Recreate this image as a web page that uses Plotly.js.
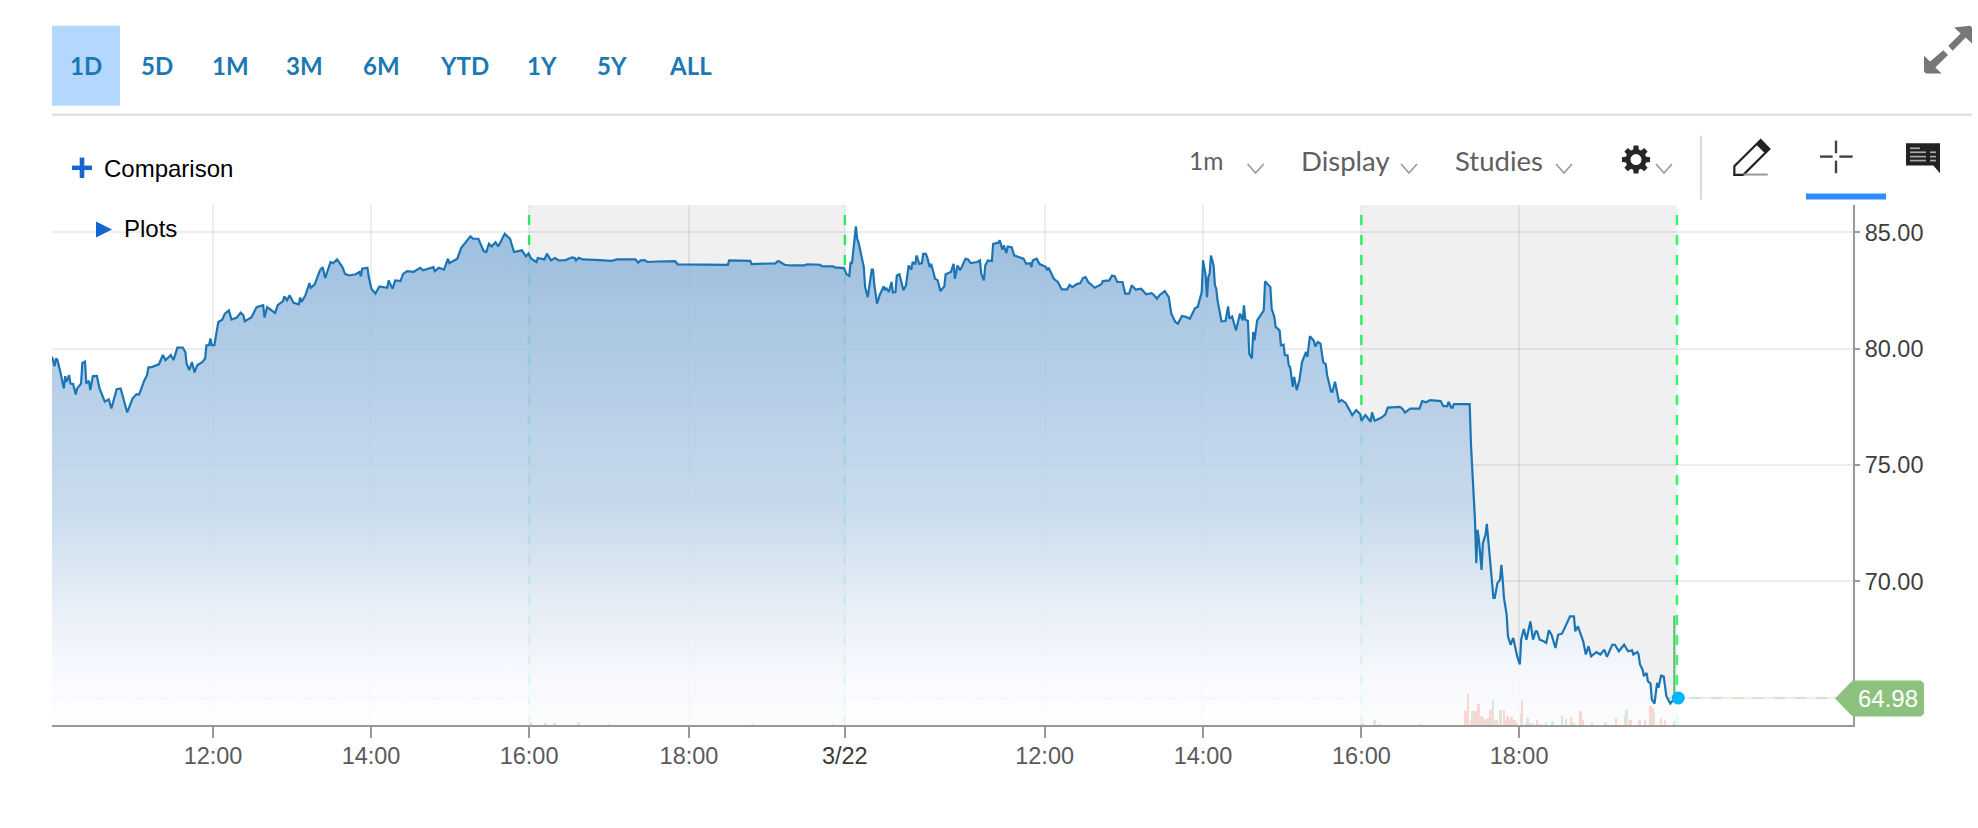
<!DOCTYPE html>
<html>
<head>
<meta charset="utf-8">
<script src="https://cdn.plot.ly/plotly-3.0.1.min.js"></script>
<style>html,body{margin:0;padding:0;background:#fff;overflow:hidden}#chart{width:1978px;height:828px}</style>
</head>
<body>
<div id="chart"></div>
<script>
// One-minute bars, numbered from the first bar of the chart
const barIndex = [0,2,3,4,6,8,9,10,11,13,14,16,18,19,22,23,25,26,28,29,31,34,36,40,43,45,49,52,55,57,61,64,66,68,70,72,73,76,81,84,86,90,92,95,99,101,102,104,106,108,110,114,116,117,119,120,121,123,126,129,131,134,136,140,143,145,146,151,155,160,161,163,169,171,175,176,178,180,183,187,188,189,192,195,196,199,203,205,207,211,213,216,220,222,225,230,233,234,235,239,240,242,245,248,254,255,258,260,264,266,269,274,276,279,281,285,289,290,293,297,300,301,307,310,314,317,319,323,327,329,331,333,336,338,343,347,350,356,359,361,
363,367,368,373,375,378,381,384,389,394,396,397,399,402,415,424,428,442,444,446,449,451,459,472,474,512,513,529,530,548,550,551,555,560,570,572,582,583,592,593,600,
602,604,605,606,607,609,610,611,615,616,618,621,622,623,625,627,630,631,632,634,636,637,639,640,642,645,647,649,651,652,654,655,657,659,660,662,663,665,666,669,671,673,676,677,681,683,684,686,688,692,694,696,701,703,704,706,707,709,712,713,717,718,720,721,723,724,727,729,736,738,741,742,743,746,748,753,754,755,759,762,765,769,771,773,776,779,781,783,785,790,795,796,801,803,805,807,811,813,816,818,821,825,829,833,835,837,839,843,846,848,851,853,856,859,862,864,866,868,871,872,874,875,876,877,878,880,881,882,883,886,889,891,892,894,897,900,902,903,904,906,907,909,910,911,913,916,918,919,923,924,926,927,930,931,933,934,936,937,938,940,941,943,945,947,950,951,953,956,957,959,961,963,965,966,967,969,970,972,973,975,977,980,983,985,988,991,992,
995,999,1000,1002,1007,1010,1012,1021,1023,1025,1029,1036,1038,1041,1044,1052,1054,1057,1058,1060,1061,1062,1074,1075,1076,1077,1078,1079,1080,1081,1083,1084,1086,1087,1091,1092,1093,1095,1097,1098,1099,1100,1102,1103,1105,1107,1110,1112,1113,1115,1117,1120,1122,1124,1125,1127,1130,1132,1134,1136,1139,1141,1144,1147,1150,1153,1154,1156,1160,1162,1164,1166,1170,1173,1176,1178,1182,1184,1187,1191,1194,1197,1198,1201,1202,1203,1205,1206,1208,1209,1211,1212,1214,1216,1217,1219,1221,1223,1226,1228,1232];
const price = [79.65,79.25,79.58,79.53,79.08,78.43,78.29,78.82,78.58,78.86,78.50,78.48,78.03,78.29,78.50,79.39,79.45,78.50,78.62,78.22,78.82,78.83,78.29,77.72,77.82,77.43,78.26,78.29,77.72,77.26,77.86,78.05,78.03,78.39,78.65,78.86,79.19,79.22,79.33,79.73,79.51,79.73,79.51,80.05,80.05,79.86,79.36,79.08,79.43,78.98,79.29,79.43,79.58,80.15,80.15,80.44,80.15,80.15,81.15,81.25,81.51,81.65,81.25,81.34,81.55,81.44,81.18,81.34,81.79,81.87,81.34,81.79,81.54,81.87,82.05,82.25,82.08,82.30,81.97,81.91,82.20,82.01,82.30,82.82,82.62,82.77,83.37,83.51,83.04,83.73,83.68,83.84,83.51,83.22,83.15,83.20,83.30,83.11,83.44,83.48,83.08,82.58,82.37,82.68,82.62,82.94,82.58,82.94,82.91,83.22,83.34,83.31,83.37,83.48,83.37,83.44,83.51,83.34,83.48,83.40,83.87,83.68,83.87,84.34,84.63,84.83,84.73,84.73,84.20,84.16,84.51,84.40,84.58,84.40,84.94,84.73,84.16,84.23,83.97,84.10,
83.87,83.73,83.90,83.84,84.08,83.80,83.90,83.80,83.81,83.93,83.90,83.80,83.91,83.84,83.81,83.78,83.84,83.84,83.70,83.80,83.81,83.73,83.75,83.77,83.63,83.61,83.80,83.78,83.64,83.67,83.77,83.75,83.61,83.58,83.58,83.63,83.61,83.55,83.54,83.50,83.47,
83.20,83.13,83.73,83.65,84.23,85.26,84.73,84.58,83.51,82.65,82.22,83.40,83.40,82.73,81.94,82.30,82.68,82.51,82.62,82.44,82.87,82.42,82.44,83.15,83.20,82.51,82.73,83.58,83.40,83.73,83.63,84.01,83.65,83.68,84.08,84.08,83.94,83.51,83.65,83.01,82.94,82.48,82.68,83.20,83.30,83.65,83.01,83.58,83.37,83.87,83.84,83.68,83.73,83.80,83.22,82.94,83.58,83.80,83.77,84.51,84.56,84.66,84.26,84.44,84.11,84.40,84.37,84.01,83.87,83.65,83.68,83.51,83.80,83.87,83.65,83.51,83.37,83.48,83.01,82.87,82.55,82.55,82.74,82.65,82.77,82.82,83.04,83.08,82.87,82.62,82.77,82.91,82.94,83.14,83.13,82.87,82.87,82.37,82.37,82.73,82.54,82.58,82.34,82.39,82.30,82.15,82.30,82.48,82.22,81.51,81.15,81.08,81.41,81.37,81.29,81.54,81.75,81.80,82.44,83.80,83.15,82.22,83.08,83.22,84.01,83.58,82.73,82.58,82.08,81.18,81.19,81.82,81.29,81.39,80.79,81.51,81.22,81.87,81.25,81.19,79.79,79.58,80.72,80.36,81.22,81.48,81.65,82.90,82.65,81.72,81.37,80.94,80.79,80.15,80.18,79.72,79.72,79.26,79.22,78.36,78.79,78.22,78.65,79.43,79.86,79.65,80.54,80.34,80.10,80.29,80.22,79.43,79.33,78.86,78.65,78.15,78.15,78.58,78.29,77.72,77.79,77.67,77.36,77.14,77.36,77.19,76.90,
77.15,76.86,77.26,76.90,77.03,77.17,77.47,77.50,77.43,77.25,77.43,77.42,77.75,77.70,77.79,77.75,77.53,77.53,77.72,77.47,77.47,77.62,77.62,75.86,74.78,73.93,72.64,70.78,72.21,71.78,70.49,71.64,72.00,72.47,70.06,69.28,69.28,69.92,70.06,70.71,70.06,69.28,68.56,67.63,67.27,67.56,66.77,66.42,67.49,67.95,67.49,68.27,67.49,67.85,67.85,67.49,67.42,67.35,67.89,67.70,67.13,67.70,67.75,68.13,68.49,68.49,67.85,68.06,67.42,66.85,67.20,66.77,66.95,66.85,67.06,66.75,67.27,67.27,66.99,67.27,66.99,67.03,66.85,66.96,66.85,66.42,66.20,65.92,66.06,65.70,65.60,64.91,64.74,65.63,65.42,65.94,65.91,65.06,64.74,64.88,64.98];

const volIndex = [363,374,381,399,422,531,592,993,1002,1006,1037,1071,1073,1075,1076,1078,1079,1081,1083,1084,1086,1088,1090,1092,1093,1095,1097,1098,1100,1101,1103,1105,1106,1108,1110,1113,1114,1117,1118,1120,1122,1125,1127,1132,1137,1144,1147,1151,1153,1158,1160,1167,1177,1185,1192,1193,1196,1203,1207,1211,1213,1214,1219,1222,1229];
const volume = [3,2,2,3,1,1,1,1.5,5,1,1,14,31,5,14,14,14,21,9,7,6,7,15,25,5,5,15,15,15,5,9,5,8,5,2,12,25,2,7,2,2,5,1,3,4,9,6,8,2,14,5,3,3,7,10,15,5,5,5,19,17,13,7,5,4];
const volUp = [0,0,1,1,0,1,0,0,1,1,1,0,0,0,1,0,0,0,1,0,0,0,0,1,1,0,0,1,0,0,0,1,0,0,0,1,0,0,1,1,0,0,0,1,1,1,1,0,0,0,0,1,1,0,0,1,0,0,0,0,0,1,0,0,1];

const tickIndex = [122,241.7,361.4,482.6,600.6,752,872,992,1111.4];
const tickLabels = ['12:00','14:00','16:00','18:00','<span style="color:#3a3a3a">3/22</span>','12:00','14:00','16:00','18:00'];
const priceTicks = [70,75,80,85];
const priceTickLabels = ['70.00','75.00','80.00','85.00'];
const sessionBreaks = [361.4,600.6,992,1231];
const lastPrice = 64.98;
const lastWickTop = 68.52;
const rangeButtons = [['1D',86],['5D',157],['1M',230],['3M',304],['6M',381],['YTD',464],['1Y',542],['5Y',612],['ALL',690]];

// page geometry
const L=52,R=1853,T=204.5,B=725.5;
const px=X=>(X-L)/(R-L), py=Y=>(B-Y)/(B-T);
const PAPER={xref:'paper',yref:'paper'};
const poly=(pts,close=true)=>pts.map((p,i)=>(i?'L':'M')+px(p[0]).toFixed(5)+' '+py(p[1]).toFixed(5)).join(' ')+(close?' Z':'');
const rect=(x0,y0,x1,y1,color,extra={})=>Object.assign({type:'rect',...PAPER,x0:px(x0),x1:px(x1),y0:py(y0),y1:py(y1),fillcolor:color,line:{width:0},layer:'above'},extra);
const seg=(x0,y0,x1,y1,color,w)=>({type:'line',...PAPER,x0:px(x0),x1:px(x1),y0:py(y0),y1:py(y1),line:{color:color,width:w},layer:'above'});
const fillPoly=(pts,color)=>({type:'path',...PAPER,path:poly(pts),fillcolor:color,line:{width:0},layer:'above'});
const z10=(a,b)=>[1600+a/3,20+b/3];
const chevron=(cx,cy)=>({type:'path',...PAPER,path:poly([[cx-8,cy-4.5],[cx,cy+4.5],[cx+8,cy-4.5]],false),line:{color:'#9a9a9a',width:1.6},fillcolor:'rgba(0,0,0,0)',layer:'above'});

const shapes=[];
// session shading, under grid
shapes.push({type:'rect',xref:'x',yref:'paper',x0:sessionBreaks[0],x1:sessionBreaks[1],y0:0,y1:1,fillcolor:'#f0f0f0',line:{width:0},layer:'below'});
shapes.push({type:'rect',xref:'x',yref:'paper',x0:sessionBreaks[2],x1:sessionBreaks[3],y0:0,y1:1,fillcolor:'#f0f0f0',line:{width:0},layer:'below'});
sessionBreaks.forEach(v=>shapes.push({type:'line',xref:'x',yref:'paper',x0:v,x1:v,y0:0,y1:1,line:{color:'#30f868',width:2.4,dash:'10px,10px'},layer:'between'}));
// last price line
shapes.push({type:'line',xref:'paper',yref:'y',x0:0,x1:px(1840),y0:lastPrice,y1:lastPrice,line:{color:'#eeeeee',width:2.5},layer:'below'});
shapes.push({type:'line',xref:'paper',yref:'y',x0:0,x1:px(1838),y0:lastPrice,y1:lastPrice,line:{color:'#c4e8bd',width:1.5,dash:'11px,10px'},layer:'between'});
// toolbar
shapes.push(rect(52,25,120,105,'#b3d7fd'));
shapes.push(rect(52,113,1972,115,'#dcdcdc'));
shapes.push(rect(72,165,92,169.5,'#1565d0'));
shapes.push(rect(79.7,157,84.3,177.5,'#1565d0'));
shapes.push(fillPoly([[96,221],[112,229],[96,237]],'#1565d0'));
[[1255.6,168],[1409,168],[1564,168],[1664,168]].forEach(c=>shapes.push(chevron(c[0],c[1])));
shapes.push(rect(1700,135,1702,199,'#d8d8d8'));
// gear
(function(){const cx=1636,cy=159,pts=[];for(let i=0;i<8;i++){const a=i*Math.PI/4;
 [[-0.27,10.5],[-0.17,14.2],[0.17,14.2],[0.27,10.5]].forEach(o=>pts.push([cx+o[1]*Math.sin(a+o[0]),cy-o[1]*Math.cos(a+o[0])]));}
 shapes.push(fillPoly(pts,'#262626'));
 shapes.push({type:'circle',...PAPER,x0:px(cx-5.5),x1:px(cx+5.5),y0:py(cy-5.5),y1:py(cy+5.5),fillcolor:'#fff',line:{width:0},layer:'above'});})();
// pencil
shapes.push({type:'path',...PAPER,path:poly([z10(403,463),z10(403,437),z10(482,358),z10(508,385),z10(430,463)]),fillcolor:'rgba(0,0,0,0)',line:{color:'#222',width:2.2},layer:'above'});
shapes.push(fillPoly([z10(482,358),z10(508,385),z10(495,398),z10(468,372)],'#222'));
shapes.push(seg(...z10(430,462),...z10(503,462),'#999',2));
// crosshair
[[660,408,698,408],[718,408,758,408],[708,360,708,398],[708,420,708,458]].forEach(s=>shapes.push(seg(...z10(s[0],s[1]),...z10(s[2],s[3]),'#444',2.4)));
shapes.push(rect(1806,193,1886,199,'#2f8cff'));
// comment
shapes.push(fillPoly([z10(918,368),z10(1020,368),z10(1020,458),z10(1000,435),z10(918,435)],'#222'));
[[930,383,960],[930,395,978],[930,408,978],[930,420,978],[990,395,1008],[990,408,1008],[990,420,1008]].forEach(s=>shapes.push(seg(...z10(s[0],s[1]),...z10(s[2],s[1]),'#aaa',1.7)));
// expand
shapes.push(fillPoly([z10(1062,20),z10(1110,15),z10(1116,20),z10(1116,68),z10(1097,50),z10(1058,90),z10(1045,75),z10(1082,38)],'#777'));
shapes.push(fillPoly([z10(972,105),z10(990,122),z10(1030,88),z10(1044,103),z10(1006,140),z10(1025,158),z10(978,158),z10(972,152)],'#777'));
// last price tag
shapes.push({type:'path',...PAPER,path:poly([[1835,699],[1851,682.5],[1853,681],[1921,681],[1924,684],[1924,714],[1921,717],[1853,717],[1851,715.5]]),fillcolor:'#8cc27d',line:{width:0},layer:'above'});

const ann=(text,X,Y,size,color,anchor='center',family='Liberation Sans, Arial, sans-serif',weight=400)=>({text:text,xref:'paper',yref:'paper',x:px(X),y:py(Y),xanchor:anchor,yanchor:'middle',showarrow:false,font:{family:family,size:size,color:color,weight:weight},borderpad:0,borderwidth:0});
const annotations=[];
rangeButtons.forEach(b=>annotations.push(ann(b[0],b[1],65,24,'#1a78b4','center','Lato, sans-serif',700)));
annotations.push(ann('Comparison',103.5,168,24,'#000','left'));
annotations.push(ann('Plots',124,228,24,'#000','left'));
annotations.push(ann('1m',1188.5,160,24.5,'#5f5f5f','left','Lato, sans-serif'));
annotations.push(ann('Display',1301,160,27.5,'#5f5f5f','left','Lato, sans-serif'));
annotations.push(ann('Studies',1455,160,27.5,'#5f5f5f','left','Lato, sans-serif'));
annotations.push(ann(lastPrice.toFixed(2),1888,699,24,'#fff'));

const traces=[
 {type:'scatter',mode:'lines',x:barIndex,y:price,name:'Price',line:{color:'#1b75b5',width:2.2,shape:'linear'},
  fill:'tozeroy',fillgradient:{type:'vertical',start:85.5,stop:63.8,colorscale:[[0,'rgba(138,178,216,0.86)'],[0.16,'rgba(156,190,223,0.86)'],[0.58,'rgba(194,215,236,0.86)'],[0.75,'rgba(226,235,246,0.86)'],[0.91,'rgba(248,250,254,0.86)'],[1,'rgba(254,254,255,0.86)']]},hoverinfo:'x+y'},
 {type:'bar',x:volIndex,y:volume,yaxis:'y2',name:'Volume',width:1.5,marker:{color:volUp.map(u=>u?'#d6ead8':'#f9d6d2'),line:{width:0}},hoverinfo:'y'},
 {type:'scatter',mode:'lines',x:[1229,1229],y:[lastWickTop,lastPrice],line:{color:'#52bf68',width:2},hoverinfo:'skip',name:'Last bar'},
 {type:'scatter',mode:'markers',x:[1232],y:[lastPrice],marker:{color:'#00b4ff',size:13},hoverinfo:'y',name:'Last'}
];

const layout={
 width:1978,height:828,margin:{l:L,r:1978-R,t:T,b:828-B,pad:0},
 paper_bgcolor:'#fff',plot_bgcolor:'#fff',showlegend:false,bargap:0,hovermode:'closest',
 font:{family:'Liberation Sans, Arial, sans-serif',size:20,color:'#555'},
 xaxis:{type:'linear',range:[0,(R-L)/1.32],tickmode:'array',tickvals:tickIndex,ticktext:tickLabels,ticks:'outside',ticklen:11,tickwidth:2,tickcolor:'#999',ticklabelstandoff:-2,
   showgrid:true,gridcolor:'rgba(0,0,0,0.065)',gridwidth:2,zeroline:false,showline:true,linecolor:'#999',linewidth:2,tickfont:{size:23.5,color:'#5a5a5a'},automargin:false},
 yaxis:{range:[85-(B-232)/23.3,85+(232-T)/23.3],side:'right',tickmode:'array',tickvals:priceTicks,ticktext:priceTickLabels,ticks:'outside',ticklen:5,tickwidth:2,tickcolor:'#999',
   showgrid:true,gridcolor:'rgba(0,0,0,0.065)',gridwidth:2,zeroline:false,showline:true,linecolor:'#999',linewidth:2,tickfont:{size:23.5,color:'#3f3f3f'},automargin:false},
 yaxis2:{overlaying:'y',range:[0,B-T],visible:false,fixedrange:true},
 shapes:shapes,annotations:annotations
};
Plotly.newPlot('chart',traces,layout,{displayModeBar:false,responsive:false});
</script>
</body>
</html>
